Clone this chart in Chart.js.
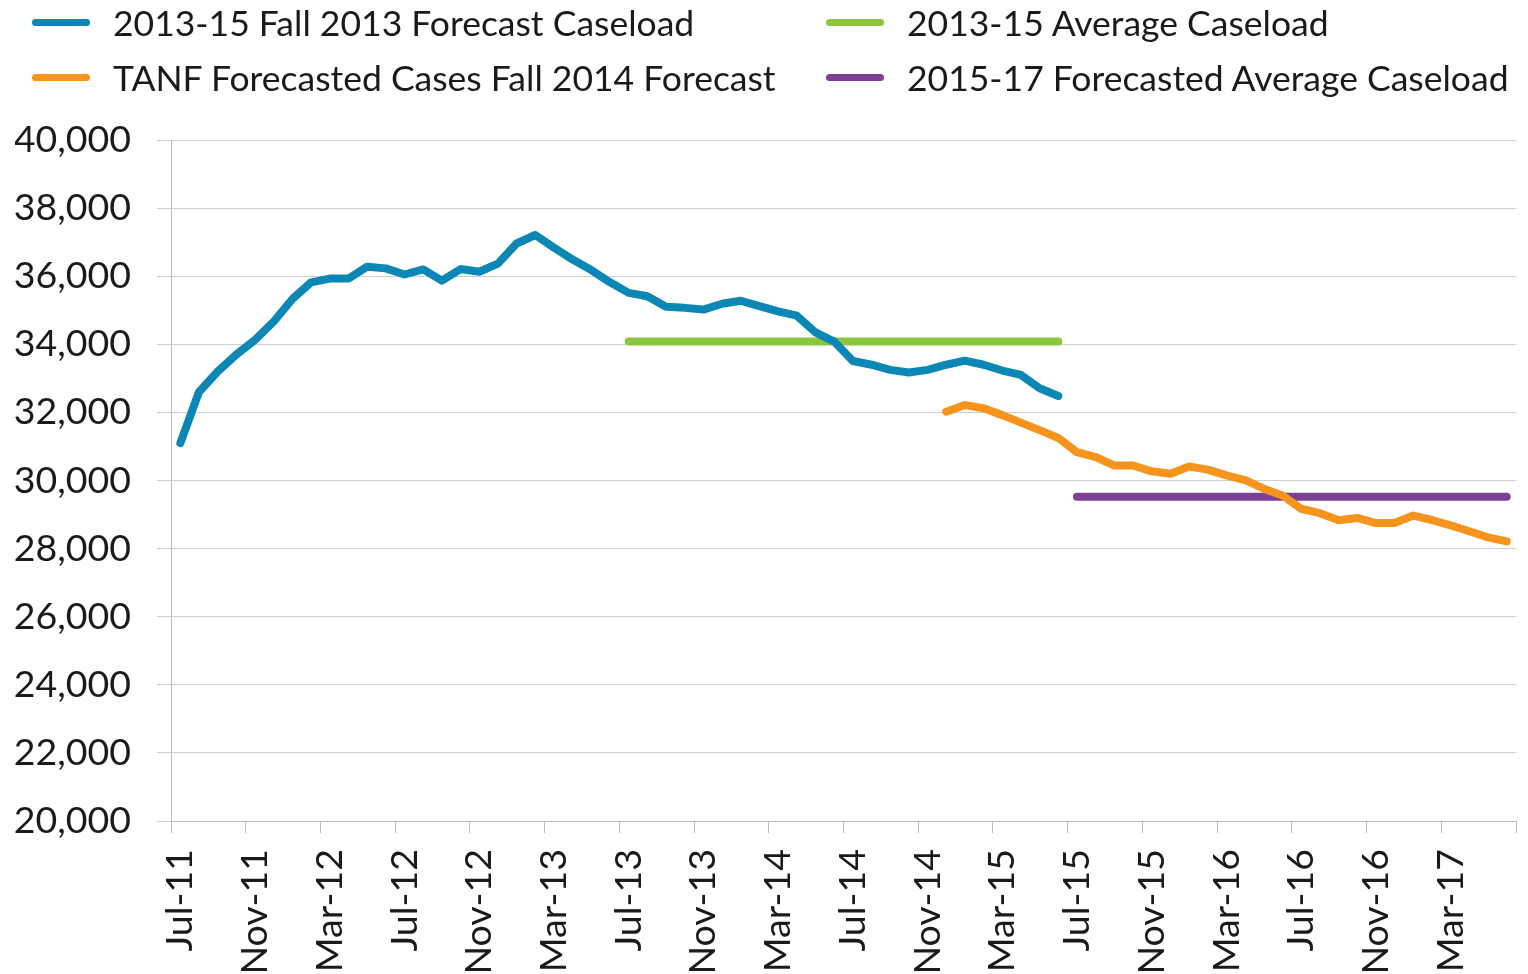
<!DOCTYPE html>
<html>
<head>
<meta charset="utf-8">
<script src="https://cdn.jsdelivr.net/npm/chart.js@4"></script>
<style>
  html, body { margin: 0; padding: 0; background: #fff; }
  #wrap { position: relative; width: 1528px; height: 974px; }
  #legend {
    position: absolute; left: 32px; top: -3px; width: 1496px;
    display: grid; grid-template-columns: 794px auto; row-gap: 0;
    font-family: Lato, sans-serif; font-size: 35.5px; color: #1a1a1a;
  }
  .item { display: flex; align-items: center; height: 50px; margin-top: 0; }
  .item:nth-child(n+3) { margin-top: 5px; }
  .swatch { width: 58px; height: 7px; border-radius: 4px; margin-right: 23px; }
</style>
</head>
<body>
<div id="wrap">
  <div id="legend"></div>
  <canvas id="chart" width="1528" height="974"></canvas>
</div>
<script>
// months on the x axis, Jul-11 .. Jun-17
const months = [
  'Jul-11','Aug-11','Sep-11','Oct-11','Nov-11','Dec-11','Jan-12','Feb-12','Mar-12','Apr-12','May-12','Jun-12',
  'Jul-12','Aug-12','Sep-12','Oct-12','Nov-12','Dec-12','Jan-13','Feb-13','Mar-13','Apr-13','May-13','Jun-13',
  'Jul-13','Aug-13','Sep-13','Oct-13','Nov-13','Dec-13','Jan-14','Feb-14','Mar-14','Apr-14','May-14','Jun-14',
  'Jul-14','Aug-14','Sep-14','Oct-14','Nov-14','Dec-14','Jan-15','Feb-15','Mar-15','Apr-15','May-15','Jun-15',
  'Jul-15','Aug-15','Sep-15','Oct-15','Nov-15','Dec-15','Jan-16','Feb-16','Mar-16','Apr-16','May-16','Jun-16',
  'Jul-16','Aug-16','Sep-16','Oct-16','Nov-16','Dec-16','Jan-17','Feb-17','Mar-17','Apr-17','May-17','Jun-17'
]

// Fall 2013 forecast caseload, starts Jul-11
const fall2013Start = 0
const fall2013 = [
  31100, 32600, 33200, 33700, 34130, 34670, 35330, 35820, 35930, 35930, 36280, 36230,
  36050, 36200, 35870, 36210, 36130, 36370, 36960, 37210, 36840, 36490, 36180, 35820,
  35510, 35410, 35100, 35070, 35020, 35190, 35280, 35120, 34970, 34840, 34350, 34080,
  33510, 33400, 33250, 33170, 33250, 33400, 33520, 33400, 33230, 33100, 32710, 32480
]

// Fall 2014 forecast, starts Dec-14
const fall2014Start = 41
const fall2014 = [
  32020, 32215, 32120, 31920, 31700, 31480, 31250, 30830, 30690, 30440, 30440, 30270,
  30200, 30410, 30320, 30150, 30010, 29760, 29560, 29170, 29040, 28830, 28900, 28750,
  28750, 28970, 28840, 28680, 28510, 28330, 28210
]

// averages
const avg1315Start = 24
const avg1315 = Array(24).fill(34080)
const avg1517Start = 48
const avg1517 = Array(24).fill(29520)

const yTicks = { min: 20000, max: 40000, step: 2000 }

function pad(start, values) {
  const out = months.map(() => null)
  values.forEach((v, i) => { out[start + i] = v })
  return out
}

const series = [
  { label: '2013-15 Fall 2013 Forecast Caseload', color: '#0b87b6', data: pad(fall2013Start, fall2013) },
  { label: '2013-15 Average Caseload', color: '#8cc63f', data: pad(avg1315Start, avg1315) },
  { label: 'TANF Forecasted Cases Fall 2014 Forecast', color: '#f7941d', data: pad(fall2014Start, fall2014) },
  { label: '2015-17 Forecasted Average Caseload', color: '#7d3f98', data: pad(avg1517Start, avg1517) }
]

// html legend so the two columns line up
const legendEl = document.getElementById('legend')
series.forEach(s => {
  const item = document.createElement('div')
  item.className = 'item'
  item.innerHTML = '<span class="swatch" style="background:' + s.color + '"></span><span>' + s.label + '</span>'
  legendEl.appendChild(item)
})

const font = { family: 'Lato, sans-serif', size: 37.5 }

function drawChart() {
  new Chart(document.getElementById('chart'), {
    type: 'line',
    data: {
      labels: months,
      datasets: series.map(s => ({
        label: s.label,
        data: s.data,
        borderColor: s.color,
        backgroundColor: s.color,
        borderWidth: 8,
        borderCapStyle: 'round',
        borderJoinStyle: 'round',
        pointRadius: 0,
        tension: 0,
        spanGaps: false
      }))
    },
    options: {
      responsive: false,
      animation: false,
      layout: { padding: { top: 140, left: 15, right: 12, bottom: 3 } },
      plugins: { legend: { display: false }, tooltip: { enabled: false } },
      scales: {
        x: {
          type: 'category',
          offset: true,
          // rotated labels shouldn't push the plot in from the sides
          afterFit: (scale) => {
            scale.paddingLeft = 0
            scale.paddingRight = 0
            scale.height = 150
          },
          grid: {
            offset: true,
            drawOnChartArea: false,
            tickLength: 12,
            color: (ctx) => (ctx.index === undefined || ctx.index % 4 === 0) ? '#bdbdbd' : 'rgba(0,0,0,0)'
          },
          border: { color: '#bdbdbd', width: 1 },
          ticks: {
            autoSkip: false,
            maxRotation: 90,
            minRotation: 90,
            padding: 16,
            color: '#1a1a1a',
            font: font,
            callback: function (value, index) {
              return index % 4 === 0 ? this.getLabelForValue(value) : ''
            }
          }
        },
        y: {
          min: yTicks.min,
          max: yTicks.max,
          // chart.js counts tick padding twice in the width
          afterFit: (scale) => { scale.width = 156 },
          grid: { color: '#d0d0d0', tickLength: 14 },
          border: { color: '#bdbdbd', width: 1 },
          ticks: {
            stepSize: yTicks.step,
            padding: 26,
            color: '#1a1a1a',
            font: font,
            callback: (v) => v.toLocaleString('en-US')
          }
        }
      }
    }
  })
}

// measure labels with the real font, not the fallback
document.fonts.load('37.5px Lato').then(drawChart, drawChart)
</script>
</body>
</html>
